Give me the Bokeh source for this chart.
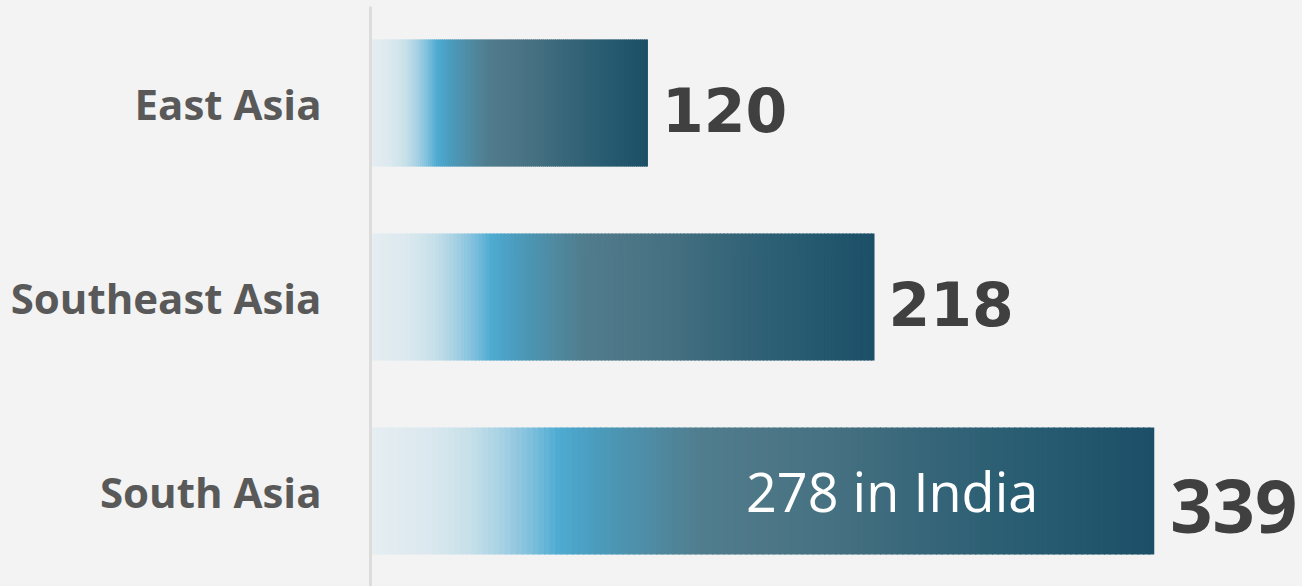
import numpy as np
from bokeh.plotting import figure
from bokeh.models import Range1d, FixedTicker, ColumnDataSource
from bokeh.embed import file_html
from bokeh.resources import INLINE
from bokeh.core.properties import value

# ---- data ----
categories = ["East Asia", "Southeast Asia", "South Asia"]
values = [120, 218, 339]
value_labels = ["120", "218", "339"]
note_text = ["278 in India"]
note_category = ["South Asia"]

# ---- gradient stops (fraction of bar length, colour) ----
stop_pos = [0.0, 0.076, 0.127, 0.166, 0.20, 0.24, 0.29, 0.37, 0.42, 0.50, 0.61, 0.74, 0.87, 1.0]
stop_col = ["#e6eef1", "#dbe8ef", "#c6e0e9", "#a8d2e4", "#85c2de", "#4eabd2", "#4b9bbc",
            "#4f899f", "#507d8e", "#4d7787", "#436f80", "#336377", "#255a70", "#1c4f67"]

BG = "#f2f3f2"
W, H = 1302, 586
LEFT = 370
TOP = 6
SCALE = 2.312  # px per unit
ROW = 194.0
FIRST_CENTER = 102.5 - TOP

def hex2rgb(h):
    h = h.lstrip("#")
    return np.array([int(h[i:i + 2], 16) for i in (0, 2, 4)], dtype=float)

stop_rgb = np.array([hex2rgb(c) for c in stop_col])

def grad_color(t):
    r = np.interp(t, stop_pos, stop_rgb[:, 0])
    g = np.interp(t, stop_pos, stop_rgb[:, 1])
    b = np.interp(t, stop_pos, stop_rgb[:, 2])
    return "#%02x%02x%02x" % (int(round(r)), int(round(g)), int(round(b)))

x_end = (W - LEFT) / SCALE
frame_h = H - TOP
y_top = -FIRST_CENTER / ROW
y_bot = (frame_h - FIRST_CENTER) / ROW

p = figure(width=W, height=H, output_backend="svg", toolbar_location=None,
           x_range=Range1d(0, x_end), y_range=Range1d(y_bot, y_top),
           min_border_left=LEFT, min_border_right=0, min_border_top=TOP, min_border_bottom=0,
           background_fill_color=BG, border_fill_color=BG, outline_line_color=None)

# gradient bars built from slices
N = 140
overlap = 1.2 / SCALE
lefts, rights, ys, cols = [], [], [], []
for i, v in enumerate(values):
    edges = np.linspace(0, v, N + 1)
    for k in range(N):
        lefts.append(edges[k])
        rights.append(edges[k + 1] + (0.0 if k == N - 1 else overlap))
        ys.append(i)
        cols.append(grad_color((k + 0.5) / N))
src = ColumnDataSource(dict(left=lefts, right=rights, y=ys, color=cols))
p.hbar(y="y", left="left", right="right", height=127 / ROW, fill_color="color",
       line_color=None, source=src)

# value labels
lab_src = ColumnDataSource(dict(x=values[:2], y=[0, 1], t=value_labels[:2]))
p.text(x="x", y="y", text="t", source=lab_src, x_offset=14, y_offset=6,
       text_font=value("DejaVu Sans"), text_font_style="bold", text_font_size="60px",
       text_color="#404040", text_baseline="alphabetic", text_align="left")
big_src = ColumnDataSource(dict(x=values[2:], y=[2], t=value_labels[2:]))
p.text(x="x", y="y", text="t", source=big_src, x_offset=16, y_offset=15,
       text_font=value("Open Sans"), text_font_style="bold", text_font_size="74px",
       text_color="#404040", text_baseline="alphabetic", text_align="left")

# annotation inside bar
ni = categories.index(note_category[0])
note_src = ColumnDataSource(dict(x=[values[ni]], y=[ni], t=note_text))
p.text(x="x", y="y", text="t", source=note_src, x_offset=-116, y_offset=0,
       text_font=value("Open Sans"), text_font_size="54px",
       text_color="white", text_baseline="middle", text_align="right")

# axes
p.xaxis.visible = False
p.xgrid.visible = False
p.ygrid.visible = False
ya = p.yaxis[0]
ya.ticker = FixedTicker(ticks=list(range(len(categories))))
ya.major_label_overrides = {i: c for i, c in enumerate(categories)}
ya.major_tick_line_color = None
ya.minor_tick_line_color = None
ya.axis_line_color = "#dcdcdc"
ya.axis_line_width = 3
ya.major_label_standoff = 43
ya.major_label_text_font = "Open Sans"
ya.major_label_text_font_style = "bold"
ya.major_label_text_font_size = "42px"
ya.major_label_text_color = "#595959"

html = file_html(p, INLINE, title="chart")
html = html.replace("<head>", "<head><style>html,body{background:%s;}</style>" % BG, 1)
open("out.html", "w").write(html)
